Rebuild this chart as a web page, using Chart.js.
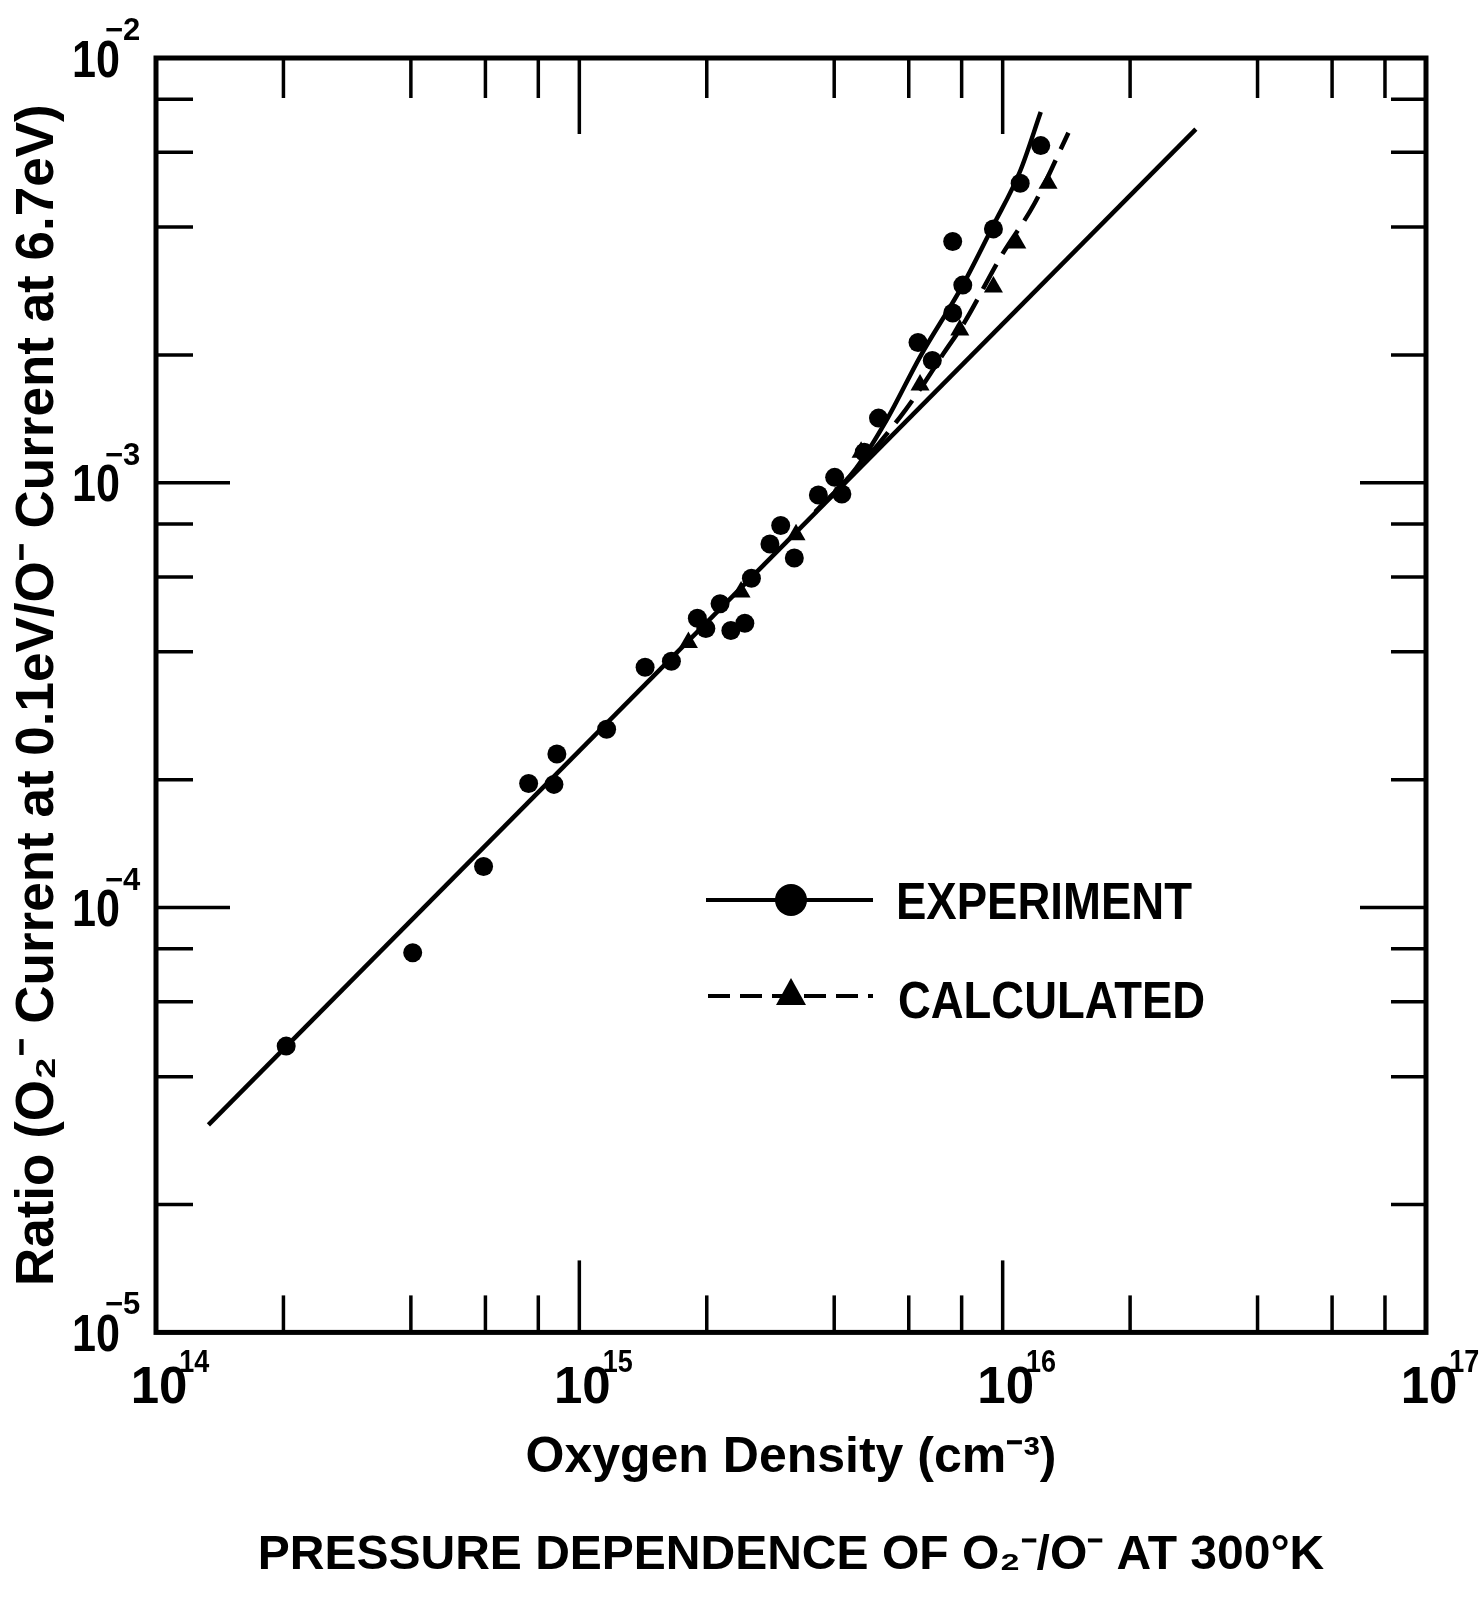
<!DOCTYPE html>
<html>
<head>
<meta charset="utf-8">
<title>Pressure dependence of O2-/O- at 300K</title>
<script src="https://cdn.jsdelivr.net/npm/chart.js@4.4.1/dist/chart.umd.min.js"></script>
<style>
  html, body { margin: 0; padding: 0; background: #fff; }
  #wrap { width: 1483px; height: 1597px; }
</style>
</head>
<body>
<div id="wrap"><canvas id="ratioChart" width="1483" height="1597"></canvas></div>
<script>
// axis decades + the minor marks drawn inside the frame (2,4,6,8 x decade)
const xDecades = [1e14, 1e15, 1e16, 1e17];
const xExponents = ["14", "15", "16", "17"];
const yDecades = [1e-5, 1e-4, 1e-3, 1e-2];
const yExponents = ["−5", "−4", "−3", "−2"];
const minorSteps = [2, 4, 6, 8];

// experiment (dots): oxygen density (cm^-3) / current ratio
const expDensity = [2.03e14, 4.04e14, 5.94e14, 7.59e14, 8.71e14, 8.85e14, 1.16e15, 1.43e15,
  1.65e15, 1.90e15, 1.99e15, 2.15e15, 2.28e15, 2.46e15, 2.55e15, 2.82e15, 2.99e15, 3.22e15,
  3.67e15, 4.01e15, 4.17e15, 4.71e15, 5.09e15, 6.31e15, 6.82e15, 7.62e15, 7.62e15, 8.05e15,
  9.51e15, 1.10e16, 1.23e16];
const expRatio = [4.72e-5, 7.83e-5, 1.25e-4, 1.96e-4, 1.95e-4, 2.30e-4, 2.63e-4, 3.68e-4,
  3.80e-4, 4.80e-4, 4.54e-4, 5.19e-4, 4.49e-4, 4.67e-4, 5.96e-4, 7.18e-4, 7.93e-4, 6.65e-4,
  9.36e-4, 1.03e-3, 9.41e-4, 1.18e-3, 1.42e-3, 2.14e-3, 1.94e-3, 2.51e-3, 3.70e-3, 2.92e-3,
  3.96e-3, 5.07e-3, 6.22e-3];

// calculated (triangles)
const calcDensity = [1.81e15, 2.41e15, 3.25e15, 4.63e15, 6.38e15, 7.92e15, 9.51e15, 1.08e16, 1.28e16];
const calcRatio = [4.21e-4, 5.53e-4, 7.55e-4, 1.18e-3, 1.70e-3, 2.29e-3, 2.89e-3, 3.67e-3, 5.07e-3];

// straight line through the low density points
const fitDensity = [1.33e14, 2.86e16];
const fitRatio = [3.08e-5, 6.80e-3];

// curves that break away at high density
const expCurveDensity = [3.61e15, 4.5e15, 5.33e15, 6.38e15, 8.05e15, 9.51e15, 1.10e16, 1.23e16];
const expCurveRatio = [8.54e-4, 1.08e-3, 1.41e-3, 1.98e-3, 2.92e-3, 4.04e-3, 5.42e-3, 7.46e-3];
const calcCurveDensity = [3.61e15, 4.5e15, 5.73e15, 6.38e15, 7.26e15, 8.11e15, 9.89e15, 1.19e16, 1.43e16];
const calcCurveRatio = [8.54e-4, 1.07e-3, 1.43e-3, 1.66e-3, 2.02e-3, 2.38e-3, 3.40e-3, 4.55e-3, 6.67e-3];

const FONT = '"Liberation Sans", Arial, sans-serif';

const toPoints = (xs, ys) => xs.map((x, i) => ({ x: x, y: ys[i] }));

// decade + minor values for one axis
function tickList(decades) {
  const out = [];
  decades.forEach((d, i) => {
    out.push({ value: d, major: true });
    if (i < decades.length - 1) minorSteps.forEach(m => out.push({ value: m * d, major: false }));
  });
  return out;
}

// closed frame with inward ticks on all four sides
const frameTicks = {
  id: "frameTicks",
  afterDraw(chart) {
    const { ctx, chartArea: a, scales: { x, y } } = chart;
    const seg = (x1, y1, x2, y2) => { ctx.beginPath(); ctx.moveTo(x1, y1); ctx.lineTo(x2, y2); ctx.stroke(); };
    ctx.save();
    ctx.strokeStyle = "#000";
    ctx.lineWidth = 3.5;
    tickList(xDecades).forEach(t => {
      const px = x.getPixelForValue(t.value);
      seg(px, a.bottom, px, a.bottom - (t.major ? 72 : 37));
      seg(px, a.top, px, a.top + (t.major ? 76 : 40));
    });
    tickList(yDecades).forEach(t => {
      const py = y.getPixelForValue(t.value);
      seg(a.left, py, a.left + (t.major ? 74 : 37), py);
      seg(a.right, py, a.right - (t.major ? 66 : 35), py);
    });
    ctx.lineWidth = 5;
    ctx.strokeRect(a.left, a.top, a.right - a.left, a.bottom - a.top);
    ctx.restore();
  }
};

// "10" with a raised exponent at every decade
const decadeLabels = {
  id: "decadeLabels",
  afterDraw(chart) {
    const { ctx, chartArea: a, scales: { x, y } } = chart;
    ctx.save();
    ctx.fillStyle = "#000";
    ctx.textBaseline = "alphabetic";
    xDecades.forEach((d, i) => {
      const px = x.getPixelForValue(d) + 3;
      ctx.font = "bold 51px " + FONT;
      ctx.textAlign = "center";
      ctx.fillText("10", px, a.bottom + 71);
      const w = ctx.measureText("10").width;
      ctx.font = "bold 31px " + FONT;
      ctx.textAlign = "left";
      ctx.fillText(xExponents[i], px + w / 2 - 8, a.bottom + 40, 30);
    });
    yDecades.forEach((d, i) => {
      const py = y.getPixelForValue(d);
      ctx.font = "bold 51px " + FONT;
      ctx.textAlign = "right";
      ctx.fillText("10", a.left - 36, py + 18.5, 48);
      ctx.font = "bold 31px " + FONT;
      ctx.textAlign = "left";
      ctx.fillText(yExponents[i], a.left - 51, py - 18);
    });
    ctx.restore();
  }
};

// legend box inside the plot
const innerLegend = {
  id: "innerLegend",
  afterDraw(chart) {
    const ctx = chart.ctx;
    ctx.save();
    ctx.strokeStyle = "#000";
    ctx.fillStyle = "#000";
    ctx.lineWidth = 4;
    ctx.beginPath(); ctx.moveTo(706, 900); ctx.lineTo(873, 900); ctx.stroke();
    ctx.beginPath(); ctx.arc(791, 900, 16, 0, Math.PI * 2); ctx.fill();

    ctx.setLineDash([22, 10]);
    ctx.beginPath(); ctx.moveTo(708, 996); ctx.lineTo(873, 996); ctx.stroke();
    ctx.setLineDash([]);
    ctx.beginPath();
    ctx.moveTo(791, 978); ctx.lineTo(806, 1005); ctx.lineTo(776, 1005); ctx.closePath(); ctx.fill();

    ctx.font = "bold 52px " + FONT;
    ctx.textAlign = "left";
    ctx.textBaseline = "alphabetic";
    ctx.fillText("EXPERIMENT", 896, 919, 296);
    ctx.fillText("CALCULATED", 898, 1018, 307);
    ctx.restore();
  }
};

new Chart(document.getElementById("ratioChart"), {
  type: "scatter",
  data: {
    datasets: [
      {
        label: "fit",
        data: toPoints(fitDensity, fitRatio),
        showLine: true,
        borderColor: "#000",
        borderWidth: 4.5,
        pointRadius: 0
      },
      {
        label: "Experiment curve",
        data: toPoints(expCurveDensity, expCurveRatio),
        showLine: true,
        borderColor: "#000",
        borderWidth: 4.5,
        cubicInterpolationMode: "monotone",
        pointRadius: 0
      },
      {
        label: "Calculated curve",
        data: toPoints(calcCurveDensity, calcCurveRatio),
        showLine: true,
        borderColor: "#000",
        borderWidth: 4.5,
        borderDash: [28, 12],
        cubicInterpolationMode: "monotone",
        pointRadius: 0
      },
      {
        label: "EXPERIMENT",
        data: toPoints(expDensity, expRatio),
        pointStyle: "circle",
        pointRadius: 9.5,
        backgroundColor: "#000",
        borderWidth: 0
      },
      {
        label: "CALCULATED",
        data: toPoints(calcDensity, calcRatio),
        pointStyle: "triangle",
        pointRadius: 11,
        backgroundColor: "#000",
        borderColor: "#000",
        borderWidth: 0
      }
    ]
  },
  options: {
    responsive: false,
    devicePixelRatio: 1,
    animation: false,
    events: [],
    layout: { padding: { left: 7, top: 58, right: 57, bottom: 12 } },
    plugins: {
      legend: { display: false },
      tooltip: { enabled: false },
      title: {
        display: true,
        position: "bottom",
        fullSize: false,
        text: "PRESSURE DEPENDENCE OF O₂⁻/O⁻ AT 300°K",
        color: "#000",
        font: { family: FONT, size: 48, weight: "bold" },
        padding: { top: 0, bottom: 0 }
      }
    },
    scales: {
      x: {
        type: "logarithmic",
        position: "bottom",
        min: 1e14,
        max: 1e17,
        grid: { display: false, drawTicks: false },
        border: { display: false },
        afterBuildTicks: s => { s.ticks = tickList(xDecades); },
        afterFit: s => { s.height = 195; s.paddingLeft = 0; s.paddingRight = 0; },
        ticks: { display: false, autoSkip: false },
        title: {
          display: true,
          text: "Oxygen Density (cm⁻³)",
          color: "#000",
          font: { family: FONT, size: 50, weight: "bold" },
          padding: { top: 0, bottom: 39 }
        }
      },
      y: {
        type: "logarithmic",
        position: "left",
        min: 1e-5,
        max: 1e-2,
        grid: { display: false, drawTicks: false },
        border: { display: false },
        afterBuildTicks: s => { s.ticks = tickList(yDecades); },
        afterFit: s => { s.width = 149; s.paddingTop = 0; s.paddingBottom = 0; },
        ticks: { display: false, autoSkip: false },
        title: {
          display: true,
          text: "Ratio (O₂⁻ Current at 0.1eV/O⁻ Current at 6.7eV)",
          color: "#000",
          font: { family: FONT, size: 53, weight: "bold" },
          padding: { top: 0, bottom: 0 }
        }
      }
    }
  },
  plugins: [frameTicks, decadeLabels, innerLegend]
});
</script>
</body>
</html>
